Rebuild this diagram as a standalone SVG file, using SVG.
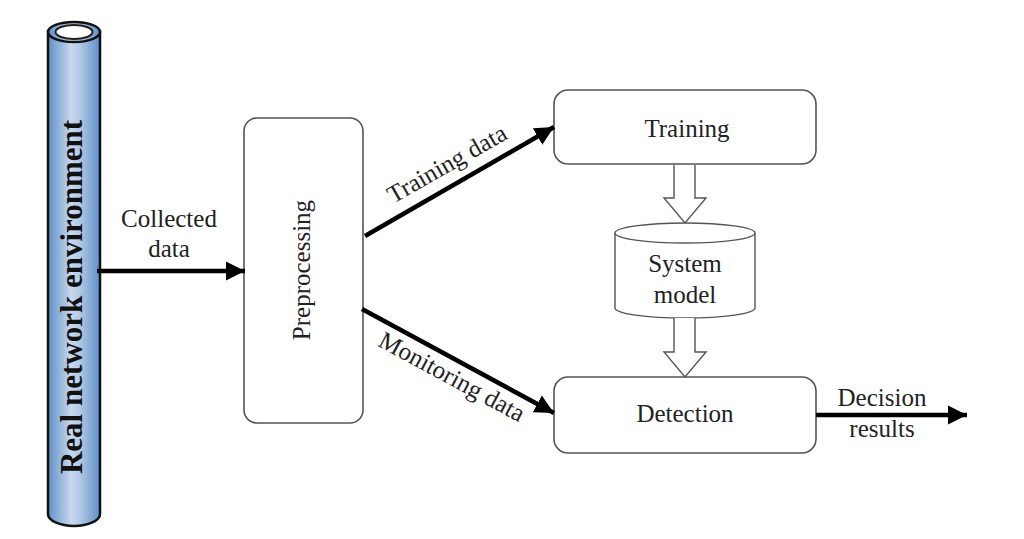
<svg xmlns="http://www.w3.org/2000/svg" width="1024" height="539" viewBox="0 0 1024 539">
<defs>
<linearGradient id="pipeGrad" x1="0" y1="0" x2="1" y2="0">
<stop offset="0" stop-color="#5f90c8"/>
<stop offset="0.45" stop-color="#c9d9ee"/>
<stop offset="0.6" stop-color="#b3cae6"/>
<stop offset="1" stop-color="#5f90c8"/>
</linearGradient>
<marker id="ah" viewBox="0 0 20 20" refX="19" refY="10" markerWidth="20" markerHeight="20" markerUnits="userSpaceOnUse" orient="auto">
<path d="M0,0.5 L19,10 L0,19.5 Z" fill="#000"/>
</marker>
<style>
.box{fill:#fff;stroke:#555;stroke-width:1.6}
.t{font-family:"Liberation Serif","Times New Roman",serif;font-size:25px;fill:#222}
.c{stroke:#000;stroke-width:4.5;fill:none}
.hollow{fill:#fff;stroke:#555;stroke-width:1.4;stroke-linejoin:miter}
</style>
</defs>
<rect width="1024" height="539" fill="#fff"/>

<g id="pipe">
<path d="M48,32 L48,514 A26,12 0 0 0 100,514 L100,32 Z" fill="url(#pipeGrad)" stroke="#111" stroke-width="2.5"/>
<ellipse cx="74" cy="32" rx="26" ry="10" fill="url(#pipeGrad)" stroke="#111" stroke-width="2.5"/>
<ellipse cx="74" cy="32" rx="18.5" ry="7" fill="#fff" stroke="#222" stroke-width="2"/>
<text class="t" transform="translate(82,297) rotate(-90)" text-anchor="middle" style="font-weight:bold;font-size:31px;fill:#111">Real network environment</text>
</g>

<g id="preprocessing">
<rect class="box" x="244" y="118" width="119" height="305" rx="13"/>
<text class="t" transform="translate(310,270) rotate(-90)" text-anchor="middle">Preprocessing</text>
</g>

<g id="training">
<rect class="box" x="554" y="90" width="262" height="74" rx="14"/>
<text class="t" x="687" y="137" text-anchor="middle">Training</text>
</g>

<g id="system-model">
<path d="M615,233 L615,308 A70,10 0 0 0 755,308 L755,233" fill="#fff" stroke="#555" stroke-width="1.4"/>
<ellipse cx="685" cy="233" rx="70" ry="10" fill="#fff" stroke="#555" stroke-width="1.4"/>
<text class="t" x="685" y="272" text-anchor="middle">System</text>
<text class="t" x="685" y="303" text-anchor="middle">model</text>
</g>

<g id="detection">
<rect class="box" x="554" y="377" width="262" height="76" rx="14"/>
<text class="t" x="685" y="422" text-anchor="middle">Detection</text>
</g>

<g id="connectors">
<line class="c" x1="97" y1="271" x2="245" y2="271" marker-end="url(#ah)"/>
<text class="t" x="169" y="227" text-anchor="middle">Collected</text>
<text class="t" x="169" y="257" text-anchor="middle">data</text>

<line class="c" x1="365" y1="236" x2="554" y2="127" marker-end="url(#ah)"/>
<text class="t" transform="translate(451,171) rotate(-29.7)" text-anchor="middle">Training data</text>

<line class="c" x1="362" y1="309" x2="554" y2="413" marker-end="url(#ah)"/>
<text class="t" transform="translate(448,384) rotate(28.4)" text-anchor="middle">Monitoring data</text>

<line class="c" x1="816" y1="415" x2="967" y2="415" marker-end="url(#ah)"/>
<text class="t" x="882" y="406" text-anchor="middle">Decision</text>
<text class="t" x="882" y="437" text-anchor="middle">results</text>

<path class="hollow" d="M674,165 L674,198 L664,198 L685,223 L706,198 L695,198 L695,165"/>
<path class="hollow" d="M674,318 L674,352 L664,352 L685,377 L706,352 L695,352 L695,318"/>
</g>
</svg>
